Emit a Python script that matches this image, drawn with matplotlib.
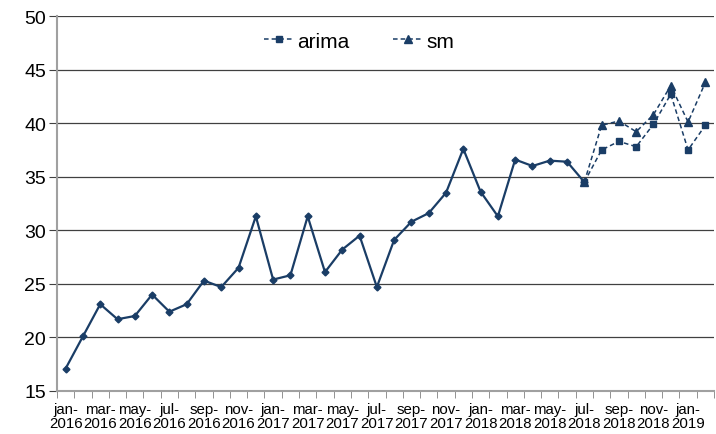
import matplotlib
matplotlib.use("Agg")
import matplotlib.pyplot as plt
import numpy as np

plt.rcParams["font.family"] = ["Liberation Sans", "DejaVu Sans"]

months = ["jan", "feb", "mar", "apr", "may", "jun", "jul", "aug", "sep", "oct", "nov", "dec"]
periods = [f"{m}-{y}" for y in (2016, 2017, 2018) for m in months] + ["jan-2019", "feb-2019"]

actual = [17.1, 20.1, 23.1, 21.7, 22.0, 24.0, 22.4, 23.1, 25.3, 24.7, 26.5, 31.3,
          25.4, 25.8, 31.3, 26.1, 28.2, 29.5, 24.7, 29.1, 30.8, 31.6, 33.5, 37.6,
          33.6, 31.3, 36.6, 36.0, 36.5, 36.4, 34.5]
arima = [34.5, 37.5, 38.3, 37.8, 39.9, 42.7, 37.5, 39.8]
sm = [34.5, 39.8, 40.2, 39.2, 40.8, 43.5, 40.1, 43.8]

color = "#1A3D66"

fig = plt.figure(figsize=(7.16, 4.35), dpi=100)
ax = fig.add_axes([57 / 716, 1 - 392 / 435, 657 / 716, 375 / 435])

x_act = np.arange(len(actual))
x_fc = np.arange(len(actual) - 1, len(actual) - 1 + len(arima))

ax.plot(x_act, actual, color=color, linewidth=1.6, marker="D", markersize=3.5, zorder=3)
ax.plot(x_fc, arima, color=color, linewidth=1.1, linestyle=(0, (3, 2)), marker="s",
        markersize=5, label="arima", zorder=3)
ax.plot(x_fc, sm, color=color, linewidth=1.1, linestyle=(0, (3, 2)), marker="^",
        markersize=5.5, label="sm", zorder=3)

ax.set_xlim(-0.5, len(periods) - 0.5)
ax.set_ylim(15, 50)
ax.set_yticks(range(15, 51, 5))
for v in range(20, 51, 5):
    ax.axhline(v, color="#404040", linewidth=0.9, zorder=1)

ax.set_xticks(np.arange(0, len(periods), 2))
ax.set_xticklabels([p.replace("-", "-\n") for p in periods[::2]], fontsize=10.8, linespacing=1.0)
ax.set_xticks(np.arange(-0.5, len(periods), 1), minor=True)
ax.tick_params(axis="x", which="major", length=0, pad=8)
ax.tick_params(axis="x", which="minor", length=5, color="#808080", direction="out")
ax.tick_params(axis="y", length=6, color="#404040", labelsize=14, pad=2)

for side in ("top", "right"):
    ax.spines[side].set_visible(False)
ax.spines["left"].set_color("#A0A0A0")
ax.spines["left"].set_linewidth(1.5)
ax.spines["bottom"].set_color("#A0A0A0")
ax.spines["bottom"].set_linewidth(1.5)

ax.legend(loc="center", bbox_to_anchor=(0.46, 0.933), ncol=2, frameon=False,
          fontsize=15, handlelength=1.4, handletextpad=0.2, columnspacing=2.1)

fig.savefig("out.png", dpi=100)
